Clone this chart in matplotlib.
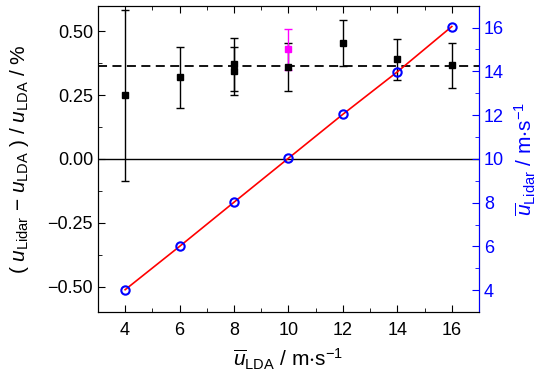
import matplotlib
matplotlib.use('Agg')
import matplotlib.pyplot as plt
from matplotlib.ticker import MultipleLocator

plt.rcParams['font.family'] = ['Liberation Sans', 'DejaVu Sans']
plt.rcParams['mathtext.fontset'] = 'custom'
plt.rcParams['mathtext.rm'] = 'Liberation Sans'
plt.rcParams['mathtext.it'] = 'Liberation Sans:italic'
plt.rcParams['mathtext.default'] = 'regular'

# relative deviation, left axis
u_lda = [4, 6, 8, 8, 10, 12, 14, 16]
dev = [0.25, 0.32, 0.37, 0.345, 0.36, 0.453, 0.39, 0.367]
dev_err = [0.335, 0.12, 0.105, 0.095, 0.093, 0.09, 0.08, 0.088]
# separate (magenta) point at 10 m/s
u_lda_m = [10]
dev_m = [0.43]
dev_m_err = [0.08]
mean_dev = 0.365

# mean lidar speed, right axis
u_lda_lin = [4, 6, 8, 10, 12, 14, 16]
u_lidar = [4.02, 6.0, 8.02, 10.03, 12.04, 13.98, 16.05]

fig, ax = plt.subplots(figsize=(5.5, 3.81), dpi=100)
fig.subplots_adjust(left=0.178, right=0.871, top=0.985, bottom=0.181)

ax.axhline(0, color='black', lw=1)
ax.axhline(mean_dev, color='black', lw=1.3, ls=(0, (5, 3)))
ax.errorbar(u_lda, dev, yerr=dev_err, fmt='s', color='black', ms=5,
            capsize=3, elinewidth=1, capthick=1, zorder=3)
ax.errorbar(u_lda_m, dev_m, yerr=dev_m_err, fmt='s', color='#ff00ff', ms=5,
            capsize=3, elinewidth=1, capthick=1, zorder=3)

ax.set_xlim(3, 17)
ax.set_ylim(-0.6, 0.6)
ax.xaxis.set_major_locator(MultipleLocator(2))
ax.xaxis.set_minor_locator(MultipleLocator(1))
ax.yaxis.set_major_locator(MultipleLocator(0.25))
ax.yaxis.set_minor_locator(MultipleLocator(0.125))
ax.yaxis.set_major_formatter(matplotlib.ticker.FuncFormatter(
    lambda v, p: ('%.2f' % v).replace('-', '\u2212')))
ax.tick_params(which='both', direction='in', top=True, labelsize=13)
ax.tick_params(which='major', length=5)
ax.tick_params(which='minor', length=3)
ax.tick_params(axis='x', pad=7)
ax.set_xlabel(r'$\overline{\mathit{u}}_{\mathrm{LDA}}$ / m$\cdot$s$^{-1}$', fontsize=15,
              labelpad=6)
ax.set_ylabel(r'( $\mathit{u}_{\mathrm{Lidar}}$ $-$ $\mathit{u}_{\mathrm{LDA}}$ ) / $\mathit{u}_{\mathrm{LDA}}$ / %',
              fontsize=15, labelpad=12)

ax2 = ax.twinx()
ax2.plot(u_lda_lin, u_lidar, color='red', lw=1.2, zorder=2)
ax2.plot(u_lda_lin, u_lidar, 'o', mfc='none', mec='blue', mew=1.5, ms=6, zorder=3)
ax2.set_ylim(3, 17)
ax2.yaxis.set_major_locator(MultipleLocator(2))
ax2.yaxis.set_minor_locator(MultipleLocator(1))
ax2.tick_params(which='both', direction='in', colors='blue', labelsize=13)
ax2.tick_params(which='major', length=5)
ax2.tick_params(which='minor', length=3)
ax2.spines['right'].set_color('blue')
ax2.set_ylabel(r'$\overline{\mathit{u}}_{\mathrm{Lidar}}$ / m$\cdot$s$^{-1}$',
               color='blue', fontsize=15, labelpad=6)

fig.savefig('out.png', dpi=100)
